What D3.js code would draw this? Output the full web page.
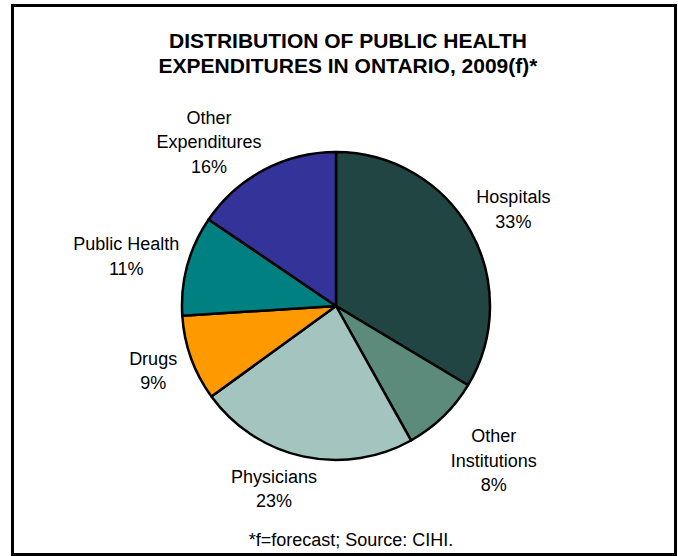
<!DOCTYPE html>
<html>
<head>
<meta charset="utf-8">
<script src="https://cdn.jsdelivr.net/npm/d3@7"></script>
<style>
  body { margin: 0; background: #fff; }
  svg text { font-family: "Liberation Sans", Arial, sans-serif; fill: #000; }
</style>
</head>
<body>
<svg id="chart"></svg>
<script>
// data (shares in %, labels as printed)
const categories = [['Hospitals'], ['Other', 'Institutions'], ['Physicians'], ['Drugs'], ['Public Health'], ['Other', 'Expenditures']];
const shares = [33.6, 8.3, 23.1, 9.0, 10.5, 15.5];
const pctLabels = ['33%', '8%', '23%', '9%', '11%', '16%'];
const colors = ['#214542', '#5d8b7b', '#a3c4bf', '#ff9900', '#008080', '#333399'];

// label nudges off the centroid (px), like Excel's best-fit placement
const labelNudge = [[-1, 4], [15, 7], [-18, -18], [10, -5], [-12, 4], [-31, 17]];

const W = 678, H = 556;
const cx = 336, cy = 306, radius = 154;
const lineH = 24.3;

const $svg = d3.select('#chart')
	.attr('width', W)
	.attr('height', H);

// frame
$svg.append('rect')
	.attr('x', 12.5)
	.attr('y', 5.5)
	.attr('width', 663)
	.attr('height', 549)
	.attr('fill', '#fff')
	.attr('stroke', '#000')
	.attr('stroke-width', 3);

// title
const title = ['DISTRIBUTION OF PUBLIC HEALTH', 'EXPENDITURES IN ONTARIO, 2009(f)*'];
$svg.append('text')
	.attr('text-anchor', 'middle')
	.style('font-size', '21px')
	.style('font-weight', 'bold')
	.selectAll('tspan')
	.data(title)
	.join('tspan')
	.attr('x', 348)
	.attr('y', (d, i) => 48 + i * 25)
	.text(d => d);

const pie = d3.pie().sort(null).value(d => d);
const arcs = pie(shares);

const arc = d3.arc().innerRadius(0).outerRadius(radius);
const labelArc = d3.arc().innerRadius(205).outerRadius(205);

const $g = $svg.append('g')
	.attr('transform', 'translate(' + cx + ',' + cy + ')');

$g.selectAll('path')
	.data(arcs)
	.join('path')
	.attr('d', arc)
	.attr('fill', (d, i) => colors[i])
	.attr('stroke', '#000')
	.attr('stroke-width', 2.5)
	.attr('stroke-linejoin', 'round');

// labels: name lines + percent, centred on the nudged centroid
const $labels = $g.selectAll('.label')
	.data(arcs)
	.join('text')
	.attr('class', 'label')
	.attr('text-anchor', 'middle')
	.style('font-size', '18px')
	.each(function(d, i) {
		const c = labelArc.centroid(d);
		const x = c[0] + labelNudge[i][0];
		const y = c[1] + labelNudge[i][1];
		const lines = categories[i].concat([pctLabels[i]]);
		const n = lines.length;
		d3.select(this).selectAll('tspan')
			.data(lines)
			.join('tspan')
			.attr('x', x)
			.attr('y', (t, j) => y + (j - (n - 1) / 2) * lineH + 6.5)
			.text(t => t);
	});

// footnote
$svg.append('text')
	.attr('x', 351)
	.attr('y', 546)
	.attr('text-anchor', 'middle')
	.style('font-size', '18px')
	.text('*f=forecast; Source: CIHI.');
</script>
</body>
</html>
